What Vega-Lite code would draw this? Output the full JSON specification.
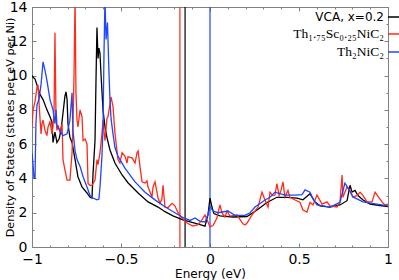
{
"$schema": "https://vega.github.io/schema/vega-lite/v6.json",
"width": 356, "height": 240,
"autosize": {"type": "none"},
"padding": {"left": 32, "top": 7, "right": 11, "bottom": 33},
"config": {"view": {"stroke": "#808080", "strokeWidth": 1}, "font": "DejaVu Sans",
  "axis": {"domain": false, "grid": false, "tickColor": "#808080", "tickWidth": 1, "labelColor": "#000", "titleColor": "#000", "titleFontWeight": "normal", "labelOverlap": false, "labelFlush": false}},
"datasets": {
"ef": [{"s": "vca", "e": -0.14}, {"s": "sc", "e": -0.169}, {"s": "th2", "e": 0.0}],
"dos": [
{"s":"vca","e":-1.000,"d":10.0},{"s":"vca","e":-0.994,"d":9.9},{"s":"vca","e":-0.983,"d":9.8},{"s":"vca","e":-0.972,"d":9.45},{"s":"vca","e":-0.955,"d":8.9},{"s":"vca","e":-0.938,"d":8.6},{"s":"vca","e":-0.916,"d":8.0},{"s":"vca","e":-0.899,"d":7.6},{"s":"vca","e":-0.888,"d":7.3},{"s":"vca","e":-0.882,"d":6.1},{"s":"vca","e":-0.871,"d":6.7},{"s":"vca","e":-0.860,"d":6.1},{"s":"vca","e":-0.848,"d":6.3},{"s":"vca","e":-0.837,"d":6.8},{"s":"vca","e":-0.826,"d":7.8},{"s":"vca","e":-0.815,"d":8.8},{"s":"vca","e":-0.809,"d":9.05},{"s":"vca","e":-0.803,"d":8.6},{"s":"vca","e":-0.798,"d":7.2},{"s":"vca","e":-0.787,"d":6.4},{"s":"vca","e":-0.775,"d":6.1},{"s":"vca","e":-0.758,"d":5.1},{"s":"vca","e":-0.742,"d":4.1},{"s":"vca","e":-0.719,"d":3.5},{"s":"vca","e":-0.691,"d":3.15},{"s":"vca","e":-0.674,"d":2.9},{"s":"vca","e":-0.663,"d":2.85},{"s":"vca","e":-0.657,"d":4.3},{"s":"vca","e":-0.646,"d":6.2},{"s":"vca","e":-0.640,"d":10.0},{"s":"vca","e":-0.635,"d":12.8},{"s":"vca","e":-0.629,"d":11.0},{"s":"vca","e":-0.624,"d":11.6},{"s":"vca","e":-0.618,"d":11.3},{"s":"vca","e":-0.612,"d":10.0},{"s":"vca","e":-0.601,"d":8.0},{"s":"vca","e":-0.590,"d":7.0},{"s":"vca","e":-0.579,"d":6.4},{"s":"vca","e":-0.562,"d":5.66},{"s":"vca","e":-0.534,"d":4.9},{"s":"vca","e":-0.494,"d":4.2},{"s":"vca","e":-0.461,"d":3.75},{"s":"vca","e":-0.404,"d":3.15},{"s":"vca","e":-0.348,"d":2.63},{"s":"vca","e":-0.292,"d":2.33},{"s":"vca","e":-0.253,"d":2.06},{"s":"vca","e":-0.208,"d":1.82},{"s":"vca","e":-0.152,"d":1.58},{"s":"vca","e":-0.096,"d":1.42},{"s":"vca","e":-0.056,"d":1.3},{"s":"vca","e":-0.028,"d":1.22},{"s":"vca","e":-0.011,"d":1.9},{"s":"vca","e":0.000,"d":2.85},{"s":"vca","e":0.011,"d":2.33},{"s":"vca","e":0.022,"d":1.95},{"s":"vca","e":0.056,"d":1.82},{"s":"vca","e":0.129,"d":1.75},{"s":"vca","e":0.208,"d":1.78},{"s":"vca","e":0.264,"d":2.16},{"s":"vca","e":0.320,"d":2.6},{"s":"vca","e":0.376,"d":2.9},{"s":"vca","e":0.433,"d":2.9},{"s":"vca","e":0.489,"d":2.85},{"s":"vca","e":0.522,"d":2.75},{"s":"vca","e":0.562,"d":3.1},{"s":"vca","e":0.590,"d":2.63},{"s":"vca","e":0.618,"d":2.4},{"s":"vca","e":0.674,"d":2.33},{"s":"vca","e":0.730,"d":2.45},{"s":"vca","e":0.770,"d":2.7},{"s":"vca","e":0.781,"d":3.3},{"s":"vca","e":0.787,"d":3.6},{"s":"vca","e":0.798,"d":3.2},{"s":"vca","e":0.815,"d":3.3},{"s":"vca","e":0.831,"d":3.0},{"s":"vca","e":0.860,"d":2.74},{"s":"vca","e":0.899,"d":2.5},{"s":"vca","e":0.955,"d":2.42},{"s":"vca","e":1.000,"d":2.35},
{"s":"sc","e":-1.000,"d":7.0},{"s":"sc","e":-0.994,"d":8.0},{"s":"sc","e":-0.983,"d":8.5},{"s":"sc","e":-0.972,"d":9.3},{"s":"sc","e":-0.966,"d":9.45},{"s":"sc","e":-0.961,"d":8.5},{"s":"sc","e":-0.955,"d":7.5},{"s":"sc","e":-0.949,"d":6.6},{"s":"sc","e":-0.944,"d":7.2},{"s":"sc","e":-0.938,"d":7.4},{"s":"sc","e":-0.927,"d":6.8},{"s":"sc","e":-0.916,"d":6.5},{"s":"sc","e":-0.910,"d":7.0},{"s":"sc","e":-0.899,"d":7.3},{"s":"sc","e":-0.888,"d":6.6},{"s":"sc","e":-0.882,"d":7.0},{"s":"sc","e":-0.876,"d":8.0},{"s":"sc","e":-0.871,"d":12.5},{"s":"sc","e":-0.865,"d":7.5},{"s":"sc","e":-0.860,"d":6.8},{"s":"sc","e":-0.854,"d":7.1},{"s":"sc","e":-0.843,"d":6.7},{"s":"sc","e":-0.831,"d":7.2},{"s":"sc","e":-0.826,"d":5.1},{"s":"sc","e":-0.815,"d":4.5},{"s":"sc","e":-0.803,"d":3.9},{"s":"sc","e":-0.787,"d":3.9},{"s":"sc","e":-0.775,"d":5.5},{"s":"sc","e":-0.770,"d":7.0},{"s":"sc","e":-0.764,"d":10.0},{"s":"sc","e":-0.758,"d":14.5},{"s":"sc","e":-0.753,"d":9.0},{"s":"sc","e":-0.747,"d":7.4},{"s":"sc","e":-0.742,"d":7.0},{"s":"sc","e":-0.730,"d":8.0},{"s":"sc","e":-0.719,"d":7.6},{"s":"sc","e":-0.713,"d":6.2},{"s":"sc","e":-0.702,"d":6.3},{"s":"sc","e":-0.691,"d":6.0},{"s":"sc","e":-0.685,"d":3.7},{"s":"sc","e":-0.674,"d":3.6},{"s":"sc","e":-0.663,"d":3.6},{"s":"sc","e":-0.646,"d":3.9},{"s":"sc","e":-0.635,"d":5.1},{"s":"sc","e":-0.629,"d":4.8},{"s":"sc","e":-0.618,"d":5.5},{"s":"sc","e":-0.607,"d":6.6},{"s":"sc","e":-0.601,"d":7.4},{"s":"sc","e":-0.596,"d":6.8},{"s":"sc","e":-0.590,"d":6.2},{"s":"sc","e":-0.579,"d":7.5},{"s":"sc","e":-0.573,"d":7.6},{"s":"sc","e":-0.556,"d":8.75},{"s":"sc","e":-0.545,"d":8.2},{"s":"sc","e":-0.534,"d":6.65},{"s":"sc","e":-0.517,"d":5.1},{"s":"sc","e":-0.506,"d":4.9},{"s":"sc","e":-0.494,"d":5.5},{"s":"sc","e":-0.478,"d":5.3},{"s":"sc","e":-0.466,"d":4.9},{"s":"sc","e":-0.461,"d":5.26},{"s":"sc","e":-0.438,"d":5.2},{"s":"sc","e":-0.421,"d":4.9},{"s":"sc","e":-0.410,"d":5.5},{"s":"sc","e":-0.404,"d":5.6},{"s":"sc","e":-0.393,"d":4.67},{"s":"sc","e":-0.382,"d":3.8},{"s":"sc","e":-0.365,"d":3.73},{"s":"sc","e":-0.354,"d":3.85},{"s":"sc","e":-0.348,"d":3.5},{"s":"sc","e":-0.326,"d":2.92},{"s":"sc","e":-0.320,"d":3.5},{"s":"sc","e":-0.309,"d":3.8},{"s":"sc","e":-0.298,"d":3.2},{"s":"sc","e":-0.292,"d":2.86},{"s":"sc","e":-0.281,"d":2.55},{"s":"sc","e":-0.270,"d":2.8},{"s":"sc","e":-0.264,"d":3.6},{"s":"sc","e":-0.253,"d":2.33},{"s":"sc","e":-0.236,"d":2.3},{"s":"sc","e":-0.213,"d":2.55},{"s":"sc","e":-0.197,"d":2.4},{"s":"sc","e":-0.180,"d":2.0},{"s":"sc","e":-0.157,"d":1.69},{"s":"sc","e":-0.129,"d":1.4},{"s":"sc","e":-0.096,"d":1.22},{"s":"sc","e":-0.067,"d":1.3},{"s":"sc","e":-0.045,"d":1.58},{"s":"sc","e":-0.028,"d":1.87},{"s":"sc","e":-0.017,"d":1.6},{"s":"sc","e":0.000,"d":1.17},{"s":"sc","e":0.017,"d":1.25},{"s":"sc","e":0.039,"d":1.69},{"s":"sc","e":0.045,"d":2.0},{"s":"sc","e":0.056,"d":2.45},{"s":"sc","e":0.067,"d":2.0},{"s":"sc","e":0.084,"d":1.75},{"s":"sc","e":0.096,"d":2.1},{"s":"sc","e":0.112,"d":1.8},{"s":"sc","e":0.152,"d":1.87},{"s":"sc","e":0.169,"d":1.6},{"s":"sc","e":0.185,"d":1.35},{"s":"sc","e":0.197,"d":1.28},{"s":"sc","e":0.208,"d":1.4},{"s":"sc","e":0.236,"d":1.87},{"s":"sc","e":0.253,"d":2.1},{"s":"sc","e":0.270,"d":2.33},{"s":"sc","e":0.292,"d":3.2},{"s":"sc","e":0.309,"d":2.74},{"s":"sc","e":0.326,"d":2.33},{"s":"sc","e":0.337,"d":3.2},{"s":"sc","e":0.354,"d":3.0},{"s":"sc","e":0.365,"d":3.03},{"s":"sc","e":0.376,"d":3.7},{"s":"sc","e":0.388,"d":3.0},{"s":"sc","e":0.399,"d":3.3},{"s":"sc","e":0.410,"d":3.8},{"s":"sc","e":0.421,"d":2.92},{"s":"sc","e":0.438,"d":3.3},{"s":"sc","e":0.449,"d":2.9},{"s":"sc","e":0.478,"d":2.74},{"s":"sc","e":0.506,"d":2.6},{"s":"sc","e":0.522,"d":2.16},{"s":"sc","e":0.545,"d":2.04},{"s":"sc","e":0.562,"d":2.6},{"s":"sc","e":0.579,"d":2.45},{"s":"sc","e":0.601,"d":3.03},{"s":"sc","e":0.629,"d":2.5},{"s":"sc","e":0.657,"d":2.63},{"s":"sc","e":0.674,"d":2.4},{"s":"sc","e":0.713,"d":2.33},{"s":"sc","e":0.730,"d":2.6},{"s":"sc","e":0.742,"d":4.2},{"s":"sc","e":0.747,"d":2.9},{"s":"sc","e":0.758,"d":3.2},{"s":"sc","e":0.770,"d":3.5},{"s":"sc","e":0.787,"d":3.3},{"s":"sc","e":0.803,"d":2.92},{"s":"sc","e":0.826,"d":3.0},{"s":"sc","e":0.843,"d":3.2},{"s":"sc","e":0.860,"d":3.0},{"s":"sc","e":0.882,"d":2.63},{"s":"sc","e":0.910,"d":2.63},{"s":"sc","e":0.927,"d":3.2},{"s":"sc","e":0.944,"d":2.95},{"s":"sc","e":0.966,"d":2.63},{"s":"sc","e":0.983,"d":2.45},{"s":"sc","e":1.000,"d":2.5},
{"s":"th2","e":-1.000,"d":5.5},{"s":"th2","e":-0.994,"d":4.8},{"s":"th2","e":-0.989,"d":4.0},{"s":"th2","e":-0.983,"d":4.0},{"s":"th2","e":-0.978,"d":7.2},{"s":"th2","e":-0.972,"d":8.3},{"s":"th2","e":-0.961,"d":8.6},{"s":"th2","e":-0.949,"d":9.5},{"s":"th2","e":-0.938,"d":10.8},{"s":"th2","e":-0.927,"d":10.3},{"s":"th2","e":-0.916,"d":9.7},{"s":"th2","e":-0.899,"d":8.6},{"s":"th2","e":-0.882,"d":8.0},{"s":"th2","e":-0.871,"d":7.2},{"s":"th2","e":-0.865,"d":8.0},{"s":"th2","e":-0.860,"d":7.1},{"s":"th2","e":-0.843,"d":6.8},{"s":"th2","e":-0.826,"d":6.5},{"s":"th2","e":-0.803,"d":6.6},{"s":"th2","e":-0.787,"d":7.4},{"s":"th2","e":-0.775,"d":9.0},{"s":"th2","e":-0.770,"d":6.8},{"s":"th2","e":-0.758,"d":5.6},{"s":"th2","e":-0.747,"d":5.1},{"s":"th2","e":-0.730,"d":4.7},{"s":"th2","e":-0.713,"d":4.1},{"s":"th2","e":-0.691,"d":3.5},{"s":"th2","e":-0.674,"d":3.0},{"s":"th2","e":-0.657,"d":2.86},{"s":"th2","e":-0.635,"d":2.75},{"s":"th2","e":-0.624,"d":2.8},{"s":"th2","e":-0.618,"d":3.5},{"s":"th2","e":-0.607,"d":5.3},{"s":"th2","e":-0.601,"d":7.0},{"s":"th2","e":-0.596,"d":11.0},{"s":"th2","e":-0.590,"d":14.5},{"s":"th2","e":-0.584,"d":12.1},{"s":"th2","e":-0.576,"d":13.1},{"s":"th2","e":-0.567,"d":10.0},{"s":"th2","e":-0.562,"d":8.6},{"s":"th2","e":-0.556,"d":7.5},{"s":"th2","e":-0.545,"d":6.6},{"s":"th2","e":-0.534,"d":5.8},{"s":"th2","e":-0.517,"d":5.3},{"s":"th2","e":-0.478,"d":4.6},{"s":"th2","e":-0.421,"d":3.8},{"s":"th2","e":-0.365,"d":3.2},{"s":"th2","e":-0.309,"d":2.75},{"s":"th2","e":-0.253,"d":2.35},{"s":"th2","e":-0.197,"d":2.0},{"s":"th2","e":-0.157,"d":1.75},{"s":"th2","e":-0.112,"d":1.55},{"s":"th2","e":-0.084,"d":1.69},{"s":"th2","e":-0.056,"d":1.5},{"s":"th2","e":-0.028,"d":1.46},{"s":"th2","e":-0.011,"d":1.9},{"s":"th2","e":0.000,"d":2.35},{"s":"th2","e":0.017,"d":2.1},{"s":"th2","e":0.045,"d":2.0},{"s":"th2","e":0.101,"d":2.1},{"s":"th2","e":0.140,"d":1.85},{"s":"th2","e":0.197,"d":1.85},{"s":"th2","e":0.225,"d":2.0},{"s":"th2","e":0.253,"d":2.33},{"s":"th2","e":0.309,"d":2.74},{"s":"th2","e":0.337,"d":2.9},{"s":"th2","e":0.365,"d":3.2},{"s":"th2","e":0.421,"d":3.03},{"s":"th2","e":0.478,"d":3.03},{"s":"th2","e":0.517,"d":3.05},{"s":"th2","e":0.534,"d":3.33},{"s":"th2","e":0.562,"d":3.2},{"s":"th2","e":0.579,"d":2.8},{"s":"th2","e":0.601,"d":2.45},{"s":"th2","e":0.674,"d":2.33},{"s":"th2","e":0.730,"d":2.6},{"s":"th2","e":0.758,"d":3.73},{"s":"th2","e":0.775,"d":3.45},{"s":"th2","e":0.803,"d":2.92},{"s":"th2","e":0.860,"d":2.63},{"s":"th2","e":0.938,"d":2.5},{"s":"th2","e":1.000,"d":2.4}
]},
"layer": [
 {"data": {"name": "ef"}, "mark": {"type": "rule", "strokeWidth": 1.2},
  "encoding": {
   "x": {"field": "e", "type": "quantitative", "scale": {"domain": [-1, 1], "nice": false, "zero": false},
     "axis": {"orient": "top", "labels": false, "title": null, "values": [-1,-0.9,-0.8,-0.7,-0.6,-0.5,-0.4,-0.3,-0.2,-0.1,0,0.1,0.2,0.3,0.4,0.5,0.6,0.7,0.8,0.9,1],
       "tickSize": {"condition": {"test": "abs(datum.value*2-round(datum.value*2))<0.001", "value": -4}, "value": -2}}},
   "y": {"datum": 0, "type": "quantitative", "scale": {"domain": [0, 14], "nice": false},
     "axis": {"orient": "right", "labels": false, "title": null, "values": [0,1,2,3,4,5,6,7,8,9,10,11,12,13,14],
       "tickSize": {"condition": {"test": "datum.value % 2 == 0", "value": -4}, "value": -2}}},
   "y2": {"datum": 14},
   "color": {"field": "s", "type": "nominal", "scale": {"domain": ["vca", "sc", "th2"], "range": ["#000000", "#ff2a1a", "#1f45ff"]}}
  }},
 {"data": {"name": "dos"}, "mark": {"type": "line", "clip": true, "strokeWidth": 1.3},
  "encoding": {
   "x": {"field": "e", "type": "quantitative", "scale": {"domain": [-1, 1], "nice": false, "zero": false},
     "axis": {"orient": "bottom", "title": "Energy (eV)", "format": "~g", "values": [-1,-0.9,-0.8,-0.7,-0.6,-0.5,-0.4,-0.3,-0.2,-0.1,0,0.1,0.2,0.3,0.4,0.5,0.6,0.7,0.8,0.9,1],
       "labelExpr": "abs(datum.value*2-round(datum.value*2))<0.001 ? datum.label : ''",
       "labelFontSize": 14, "labelPadding": 9, "titleFontSize": 12, "titlePadding": 0,
       "tickSize": {"condition": {"test": "abs(datum.value*2-round(datum.value*2))<0.001", "value": -4}, "value": -2}}},
   "y": {"field": "d", "type": "quantitative", "scale": {"domain": [0, 14], "nice": false},
     "axis": {"orient": "left", "title": "Density of States (states per eV per Ni)", "format": "d", "values": [0,1,2,3,4,5,6,7,8,9,10,11,12,13,14],
       "labelExpr": "datum.value % 2 == 0 ? datum.label : ''",
       "labelFontSize": 14, "labelPadding": 9, "titleFontSize": 11.2, "titlePadding": -6,
       "tickSize": {"condition": {"test": "datum.value % 2 == 0", "value": -4}, "value": -2}}},
   "color": {"field": "s", "type": "nominal", "scale": {"domain": ["vca", "sc", "th2"], "range": ["#000000", "#ff2a1a", "#1f45ff"]},
     "legend": {"orient": "none", "legendX": 355, "legendY": -1, "title": null, "symbolType": "stroke", "symbolSize": 400, "symbolStrokeWidth": 1.5,
       "labelAlign": "right", "labelOffset": -25, "labelFontSize": 12, "labelColor": "#000", "rowPadding": -4, "padding": 0, "labelLimit": 0,
       "labelExpr": "datum.value == 'vca' ? 'VCA, x=0.2' : datum.value == 'sc' ? 'Th₁.₇₅Sc₀.₂₅NiC₂' : 'Th₂NiC₂'",
       "encode": {"labels": {"update": {"font": {"signal": "datum.value == 'vca' ? 'DejaVu Sans' : 'Liberation Serif'"}, "fontSize": {"signal": "datum.value == 'vca' ? 12 : 13.5"}}}}}}
  }}
]
}
